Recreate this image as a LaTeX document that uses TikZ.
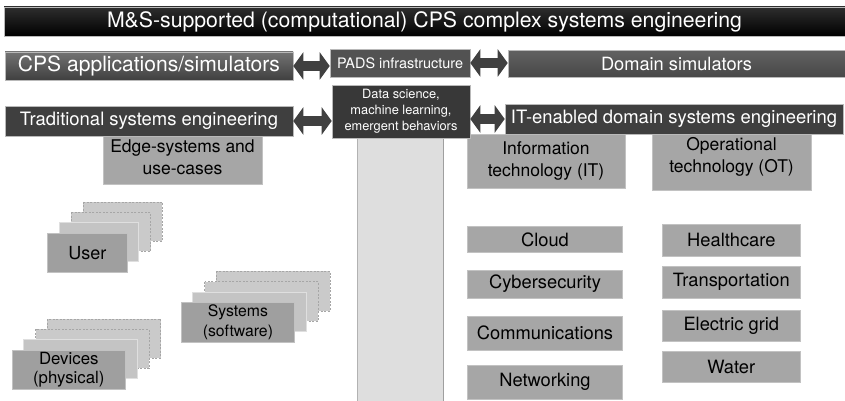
\documentclass[tikz,border=0pt]{standalone}
\usepackage{fontspec}
\setmainfont{TeX Gyre Heros}
\usepackage{graphicx}
\usetikzlibrary{arrows.meta}
\definecolor{bandgray}{HTML}{DEDEDE}
\definecolor{boxgray}{HTML}{A6A6A6}
\definecolor{boxedge}{HTML}{C2C2C2}
\definecolor{frontgray}{HTML}{9F9F9F}
\definecolor{backgray}{HTML}{C4C4C4}
\definecolor{darkA}{HTML}{3F3F3F}
\definecolor{darkB}{HTML}{525252}
\definecolor{arrgray}{HTML}{404040}
\newcommand{\fw}[2]{\resizebox{#1pt}{!}{#2}}
\newcommand{\stackbox}[7]{% name, x, y, w, h, font, text
  \foreach \k/\sty in {3/backdash,2/backdash,1/backsolid}{
    \path[\sty] ({#2+11.9*\k},{#3-10.3*\k}) rectangle ++(#4,#5);
  }
  \node[frontbox, minimum width=#4pt, minimum height=#5pt, anchor=north west, font=#6] (#1) at (#2,#3) {#7};
}
\begin{document}
\begin{tikzpicture}[x=1pt,y=-1pt,
  darkbox/.style={draw=gray!55, line width=0.6pt, text=white, inner sep=0pt, align=center},
  graybox/.style={fill=boxgray, draw=boxedge, line width=0.8pt, text=black, inner sep=0pt, align=center, font=\fontsize{17.5pt}{22pt}\selectfont},
  itembox/.style={graybox, font=\fontsize{18.3pt}{22pt}\selectfont},
  frontbox/.style={fill=frontgray, draw=boxedge, line width=0.8pt, text=black, inner sep=0pt, align=center},
  backsolid/.style={fill=backgray, draw=gray!25, line width=0.6pt},
  backdash/.style={fill=backgray!90, draw=gray!70, line width=0.6pt, dash pattern=on 2pt off 1.5pt},
  dbl/.style={draw=arrgray, line width=10pt, {Triangle[length=10pt,width=27pt]}-{Triangle[length=10pt,width=27pt]}}
]
\useasboundingbox (0,0) rectangle (845,401);
\fill[white] (0,0) rectangle (845,401);

% vertical band
\fill[bandgray] (357,138) rectangle (443,401);
\draw[gray!60, line width=0.6pt] (357,138) -- (357,401);
\draw[gray!75, line width=1.2pt] (443.5,138) -- (443.5,401);

% gray category boxes (partly under the dark bars)
\node[graybox, minimum width=159pt, minimum height=54pt] (edge) at (182.5,157) {Edge-systems and\\use-cases};
\node[graybox, minimum width=158pt, minimum height=54pt] (it) at (546,161) {Information\\technology (IT)};
\node[graybox, minimum width=159pt, minimum height=66pt] (ot) at (731.5,157) {Operational\\technology (OT)};

% title banner
\node[darkbox, top color=black!82, bottom color=black, minimum width=841pt, minimum height=29pt] (title) at (424.5,21.5)
  {\fw{635}{M\&S-supported (computational) CPS complex systems engineering}};

% first row
\node[darkbox, top color=black!55, bottom color=black!75, minimum width=288pt, minimum height=28pt] (cps) at (149,66)
  {\fw{262}{CPS applications/simulators}};
\node[darkbox, fill=darkB, minimum width=140pt, minimum height=28pt] (pads) at (400,63)
  {\fw{126}{PADS infrastructure}};
\node[darkbox, top color=black!62, bottom color=black!72, minimum width=337pt, minimum height=27pt] (dom) at (676.5,64)
  {\fw{151}{Domain simulators}};

% second row
\node[darkbox, fill=darkA, minimum width=288pt, minimum height=30pt] (trad) at (149,121)
  {\fw{258}{Traditional systems engineering}};
\node[darkbox, fill=black!78, minimum width=138pt, minimum height=53pt, font=\fontsize{12.8pt}{16pt}\selectfont] (data) at (401,111.5)
  {Data science,\\machine learning,\\emergent behaviors};
\node[darkbox, fill=darkA, minimum width=338pt, minimum height=30pt] (itd) at (674,119)
  {\fw{326}{IT-enabled domain systems engineering}};

% double arrows
\draw[dbl] (cps.east) -- (cps.east -| pads.west);
\draw[dbl] (pads.east) -- (pads.east -| dom.west);
\draw[dbl] (trad.east) -- (trad.east -| data.west);
\draw[dbl] (data.east |- itd.west) -- (itd.west);

% IT column
\node[itembox, minimum width=155pt, minimum height=26pt] (cloud) at (545,239.7) {Cloud};
\node[itembox, minimum width=155pt, minimum height=28pt] (cyber) at (545,284) {Cybersecurity};
\node[itembox, minimum width=155pt, minimum height=34.7pt] (comm) at (545,333.3) {Communications};
\node[itembox, minimum width=155pt, minimum height=34pt] (netw) at (545,382) {Networking};

% OT column
\node[itembox, minimum width=138.7pt, minimum height=32pt] (health) at (731.3,240) {Healthcare};
\node[itembox, minimum width=138.7pt, minimum height=31.3pt] (trans) at (731.3,282.3) {Transportation};
\node[itembox, minimum width=138.7pt, minimum height=31.7pt, text depth=3pt] (elec) at (731.3,325.8) {Electric grid};
\node[itembox, minimum width=138.7pt, minimum height=30.3pt] (water) at (731.3,366.8) {Water};

% stacked edge systems
\stackbox{user}{47.3}{232.7}{79.4}{39}{\fontsize{18pt}{22pt}\selectfont}{User}
\stackbox{sys}{180.7}{302.3}{113.6}{39.4}{\fontsize{15.8pt}{20pt}\selectfont}{Systems\\(software)}
\stackbox{dev}{11.7}{350}{113.3}{39}{\fontsize{16.8pt}{19pt}\selectfont}{Devices\\(physical)}
\end{tikzpicture}
\end{document}
